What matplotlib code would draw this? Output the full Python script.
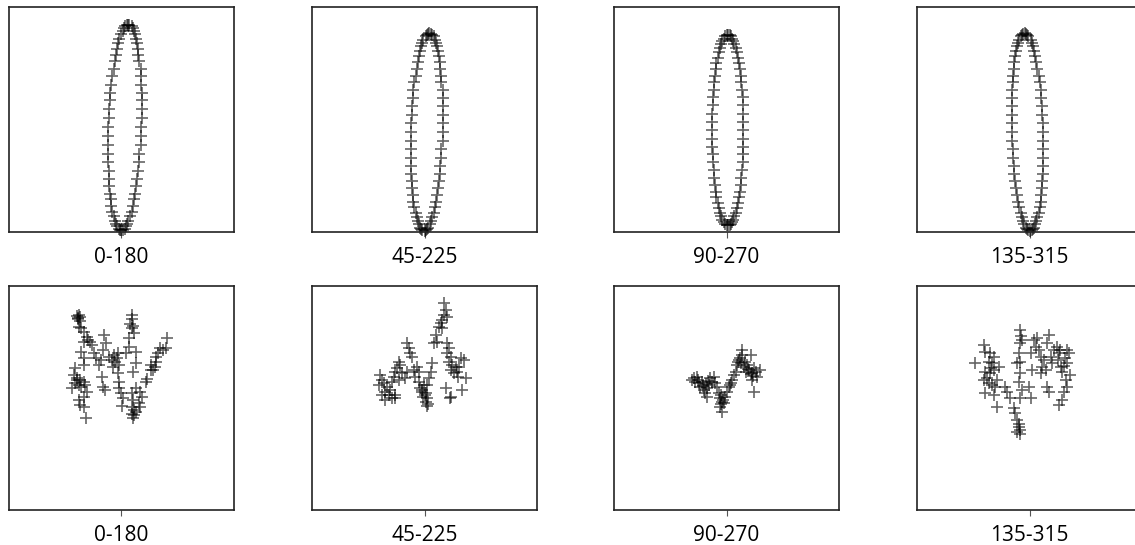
import matplotlib.pyplot as plt

plt.rcParams['font.family'] = ['Open Sans', 'DejaVu Sans']

labels = ['0-180', '45-225', '90-270', '135-315']

# top row: closed loops
loop_x_0 = [.17, .18, .18, .18, .18, .17, .17, .17, .16, .15, .15, .14, .13, .12, .11, .10, .09, .07,
            .06, .05, .03, .02, .01, -.00, -.02, -.03, -.04, -.05, -.06, -.07, -.08, -.09, -.10, -.10, -.11, -.11,
            -.12, -.12, -.12, -.12, -.12, -.11, -.11, -.11, -.10, -.09, -.09, -.08, -.07, -.06, -.05, -.04, -.02, -.01,
            .00, .01, .03, .04, .05, .06, .08, .09, .10, .11, .12, .13, .14, .15, .16, .16, .17, .17]
loop_y_0 = [-.07, .01, .09, .17, .24, .31, .39, .45, .52, .57, .63, .68, .72, .76, .79, .81, .83, .84,
            .84, .84, .83, .81, .79, .76, .72, .68, .63, .57, .52, .45, .39, .31, .24, .17, .09, .01,
            -.07, -.15, -.23, -.31, -.38, -.46, -.53, -.59, -.66, -.71, -.77, -.82, -.86, -.90, -.93, -.95, -.97, -.98,
            -.98, -.98, -.97, -.95, -.93, -.90, -.86, -.82, -.77, -.71, -.66, -.59, -.53, -.46, -.38, -.31, -.23, -.15]

loop_x_45 = [.16, .16, .16, .16, .16, .16, .15, .15, .14, .14, .13, .12, .11, .10, .09, .08, .07, .06,
             .04, .03, .02, .01, -.01, -.02, -.03, -.04, -.05, -.06, -.07, -.08, -.09, -.10, -.10, -.11, -.11, -.12,
             -.12, -.12, -.12, -.12, -.12, -.12, -.11, -.11, -.10, -.10, -.09, -.08, -.07, -.06, -.05, -.04, -.03, -.02,
             -.00, .01, .02, .03, .05, .06, .07, .08, .09, .10, .11, .12, .13, .14, .14, .15, .15, .16]
loop_y_45 = [-.11, -.03, .04, .12, .19, .26, .33, .39, .45, .51, .56, .61, .65, .68, .71, .74, .75, .76,
             .77, .76, .75, .74, .71, .68, .65, .61, .56, .51, .45, .39, .33, .26, .19, .12, .04, -.03,
             -.11, -.19, -.26, -.34, -.41, -.48, -.55, -.61, -.67, -.73, -.78, -.83, -.87, -.90, -.93, -.96, -.97, -.98,
             -.99, -.98, -.97, -.96, -.93, -.90, -.87, -.83, -.78, -.73, -.67, -.61, -.55, -.48, -.41, -.34, -.26, -.19]

loop_x_90 = [.15, .15, .15, .15, .15, .14, .13, .13, .12, .11, .10, .09, .08, .07, .06, .05, .04, .03,
             .01, .00, -.01, -.02, -.04, -.05, -.06, -.07, -.08, -.09, -.09, -.10, -.11, -.11, -.12, -.12, -.13, -.13,
             -.13, -.13, -.13, -.12, -.12, -.11, -.11, -.10, -.09, -.09, -.08, -.07, -.06, -.05, -.04, -.02, -.01, .00,
             .01, .03, .04, .05, .06, .07, .08, .09, .10, .11, .12, .13, .13, .14, .15, .15, .15, .15]
loop_y_90 = [-.09, -.02, .05, .13, .20, .26, .33, .39, .45, .50, .55, .60, .64, .67, .70, .72, .74, .75,
             .75, .75, .74, .72, .70, .67, .64, .60, .55, .50, .45, .39, .33, .26, .20, .13, .05, -.02,
             -.09, -.17, -.24, -.31, -.38, -.45, -.52, -.58, -.64, -.69, -.74, -.79, -.83, -.86, -.89, -.91, -.93, -.94,
             -.94, -.94, -.93, -.91, -.89, -.86, -.83, -.79, -.74, -.69, -.64, -.58, -.52, -.45, -.38, -.31, -.24, -.17]

loop_x_135 = [.12, .12, .11, .11, .10, .10, .09, .08, .07, .06, .05, .04, .03, .02, .01, -.01, -.02, -.03,
              -.04, -.06, -.07, -.08, -.09, -.10, -.11, -.12, -.13, -.14, -.14, -.15, -.15, -.16, -.16, -.16, -.16, -.16,
              -.16, -.16, -.15, -.15, -.14, -.14, -.13, -.12, -.11, -.10, -.09, -.08, -.07, -.06, -.05, -.03, -.02, -.01,
              .00, .02, .03, .04, .05, .06, .07, .08, .09, .10, .10, .11, .11, .12, .12, .12, .12, .12]
loop_y_135 = [-.11, -.03, .04, .12, .19, .26, .33, .39, .45, .51, .56, .61, .65, .68, .71, .74, .75, .76,
              .77, .76, .75, .74, .71, .68, .65, .61, .56, .51, .45, .39, .33, .26, .19, .12, .04, -.03,
              -.11, -.19, -.26, -.34, -.41, -.48, -.55, -.61, -.67, -.73, -.78, -.83, -.87, -.90, -.93, -.96, -.97, -.98,
              -.99, -.98, -.97, -.96, -.93, -.90, -.87, -.83, -.78, -.73, -.67, -.61, -.55, -.48, -.41, -.34, -.26, -.19]

# bottom row: scattered points
pts_x_0 = [-.45, -.43, -.42, -.44, -.42, -.43, -.40, -.38, -.35, -.33, -.31, -.30, -.38, -.40, -.38, -.38,
           -.47, -.48, -.45, -.42, -.38, -.47, -.50, -.43, -.40, -.37, -.35, -.38, -.43, -.42, -.38, -.36,
           -.27, -.25, -.20, -.22, -.17, -.15, -.18, -.19, -.18, -.16, -.12, -.09, -.07, -.06, -.08, -.03,
           -.02, -.03, -.02, -.02, .00, .02, .01, .11, .10, .09, .10, .13, .07, .07, .05, .14, .14, .12,
           .14, .10, .12, .10, .14, .13, .12, .17, .19, .20, .19, .25, .26, .30, .33, .34, .35, .37,
           .39, .42, .45, .46, .32, .30, -.44, -.45, -.04, .12, .13, .11]
pts_y_0 = [.82, .83, .81, .79, .77, .71, .70, .66, .61, .58, .56, .53, .56, .46, .40, .33,
           .30, .23, .20, .18, .16, .15, .10, .13, .11, .13, .06, .01, -.02, -.07, -.09, -.20,
           .45, .40, .38, .33, .63, .55, .48, .21, .11, .08, .41, .38, .43, .36, .31, .45,
           .33, .25, .16, .10, .05, .00, -.08, .83, .79, .74, .70, .65, .60, .51, .45, .46, .35, .26,
           .10, .05, -.02, -.09, -.14, -.17, -.20, -.05, -.09, .01, .06, .16, .19, .28, .31, .36, .41, .45,
           .50, .48, .50, .60, .28, .33, .80, .18, .40, .72, -.12, -.16]

pts_x_45 = [.19, .21, .19, .22, .17, .16, .14, .17, .11, .09, .12,
            .22, .24, .22, .26, .24, .27, .26, .31, .29, .32, .33, .36, .41, .34, .21, .37, .26,
            .07, .06, .04, .02, -.01, -.05, -.03, .01, -.02, .02, .01, -.06,
            -.18, -.16, -.15, -.13, -.08, -.11, -.06, -.10, -.18, -.20,
            -.26, -.25, -.28, -.30, -.23, -.31, -.26, -.33,
            -.45, -.43, -.41, -.46, -.38, -.40, -.35, -.36, -.30, -.33, -.40, -.43,
            .02, .03, .25, .39, -.30, .00, -.03]
pts_y_45 = [.95, .88, .83, .81, .78, .75, .71, .70, .63, .55, .56,
            .55, .50, .45, .41, .36, .33, .28, .31, .25, .26, .21, .40, .20, .31, .10, .08, .01,
            .35, .26, .20, .13, .13, .10, .06, .05, .01, .00, -.04, .16,
            .55, .50, .45, .41, .31, .28, .26, .21, .26, .20,
            .36, .33, .30, .26, .25, .21, .18, .16,
            .23, .18, .15, .13, .11, .06, .08, .03, .03, .00, -.02, .03,
            -.08, -.06, .00, .38, .00, .03, .08]

pts_x_90 = [-.33, -.32, -.30, -.28, -.27, -.25, -.23, -.22, -.20, -.17, -.15, -.13, -.12, -.18, -.20, -.10,
            -.08, -.07, -.05, -.07, -.05, -.03, -.02, .00, .02, .04, .05, .07, .09, .10, .12, .15,
            .14, .17, .20, .22, .24, .25, .27, .29, .30, .25, .27, .19,
            -.29, -.24, -.19, -.04, -.06, .03, .11, .18, .21, .26, -.21, -.06, .13, .24, .33, .15, -.35]
pts_y_90 = [.20, .16, .21, .15, .11, .16, .08, .05, .10, .20, .16, .21, .15, .13, .01, .11,
            .05, .00, -.04, -.09, -.14, -.05, .01, .06, .11, .15, .18, .23, .26, .33, .38, .43,
            .35, .31, .33, .28, .43, .25, .30, .26, .21, .18, .06, .26,
            .18, .12, .17, -.02, .03, .13, .36, .36, .29, .22, .14, -.06, .40, .24, .28, .48, .18]

pts_x_135 = [-.46, -.45, -.40, -.36, -.55, -.41, -.38, -.45, -.40, -.36, -.46, -.41, -.38, -.35, -.45, -.36,
             -.33, -.31, -.33,
             -.25, -.23, -.20, -.16, -.15, -.13, -.11, -.13, -.10,
             -.10, -.08, -.10, -.11, -.10, -.13, -.10, -.11, -.08, -.10,
             .01, .02, -.01, .01, .04, .07, .06, .09, .11, .12, .11, .17, .19, .14, .16, .17, .19,
             .21, .24, .27, .29, .31, .32, .37, .39, .36, .37, .34, .32, .29, .37,
             -.10, -.11, .35, .34, .40, -.43, -.39, .28, .30, -.09, .22]
pts_y_135 = [.53, .46, .45, .41, .35, .36, .35, .26, .25, .28, .18, .15, .13, .11, .05, .03,
             -.09, .31, .18,
             .11, .06, .00, -.10, -.15, -.22, -.29, -.34, -.32,
             .68, .58, .55, .45, .36, .35, .25, .16, .08, .00,
             .45, .28, .11, .00, .58, .60, .51, .48, .41, .31, .25, .55, .63, .38, .28, .11, .06,
             .41, .48, .51, .45, .31, .26, .35, .45, .18, .11, .06, -.02, -.07, .48,
             -.36, -.26, .40, .32, .23, .20, .30, .38, .48, .62, .35]

top_x = [loop_x_0, loop_x_45, loop_x_90, loop_x_135]
top_y = [loop_y_0, loop_y_45, loop_y_90, loop_y_135]
bot_x = [pts_x_0, pts_x_45, pts_x_90, pts_x_135]
bot_y = [pts_y_0, pts_y_45, pts_y_90, pts_y_135]

W, H = 1135, 545
lefts = [9, 312, 614, 917]

fig = plt.figure(figsize=(W / 100, H / 100), dpi=100)


def style(ax, label, lim):
    ax.set_xlim(-lim, lim)
    ax.set_ylim(-lim, lim)
    ax.set_xticks([0])
    ax.set_xticklabels([label])
    ax.set_yticks([])
    ax.tick_params(axis='x', length=4, width=0.8, color='#555555', pad=7, labelsize=15)
    for s in ax.spines.values():
        s.set_linewidth(1.2)
        s.set_color('#222222')


for i in range(4):
    ax = fig.add_axes([lefts[i] / W, 1 - 232 / H, 225 / W, 225 / H])
    ax.plot(top_x[i], top_y[i], '+', color='black', alpha=0.6, ms=8.5, mew=1.2, clip_on=False)
    style(ax, labels[i], 1.0)

    ax = fig.add_axes([lefts[i] / W, 1 - 510 / H, 225 / W, 224 / H])
    ax.plot(bot_x[i], bot_y[i], '+', color='black', alpha=0.6, ms=9, mew=1.2)
    style(ax, labels[i], 1.125)

fig.savefig('out.png', dpi=100)
